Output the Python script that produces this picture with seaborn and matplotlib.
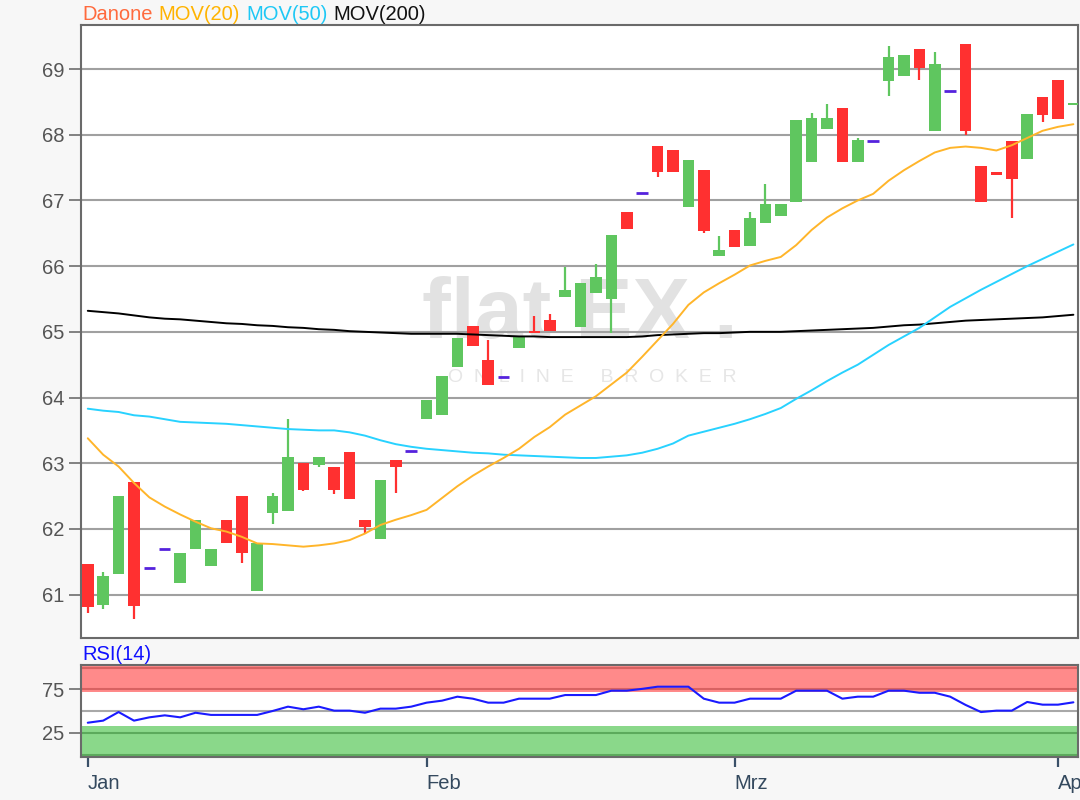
import matplotlib
matplotlib.use("Agg")
import matplotlib.pyplot as plt
import numpy as np
import pandas as pd
import seaborn as sns

# Danone daily OHLC, 2 Jan - 2 Apr
opens = [61.46, 60.84, 61.32, 62.71, 61.40, 61.70, 61.18, 61.69, 61.44, 62.14,
         62.50, 61.05, 62.24, 62.27, 63.00, 62.97, 62.95, 63.17, 62.14, 61.84,
         63.05, 63.19, 63.67, 63.73, 64.46, 65.09, 64.57, 64.32, 64.76, 65.00,
         65.18, 65.53, 65.08, 65.59, 65.50, 66.82, 67.12, 67.83, 67.76, 66.90,
         67.46, 66.16, 66.55, 66.31, 66.66, 66.77, 66.97, 67.59, 68.08, 68.40,
         67.59, 67.90, 68.82, 68.90, 69.31, 68.06, 68.67, 69.38, 67.52, 67.43,
         67.91, 67.63, 68.58, 68.83, 68.45]
highs = [61.46, 61.34, 62.50, 62.71, 61.40, 61.70, 61.64, 62.14, 61.70, 62.14,
         62.50, 61.78, 62.55, 63.68, 63.00, 63.10, 62.95, 63.17, 62.14, 62.74,
         63.05, 63.19, 63.96, 64.33, 64.90, 65.09, 64.88, 64.32, 64.93, 65.24,
         65.27, 65.99, 65.75, 66.03, 66.48, 66.82, 67.12, 67.83, 67.76, 67.61,
         67.46, 66.46, 66.55, 66.82, 67.25, 66.94, 68.22, 68.33, 68.46, 68.40,
         67.95, 67.90, 69.35, 69.22, 69.31, 69.26, 68.67, 69.38, 67.52, 67.43,
         67.91, 68.31, 68.58, 68.83, 68.49]
lows = [60.72, 60.78, 61.32, 60.63, 61.40, 61.70, 61.18, 61.69, 61.44, 61.78,
        61.48, 61.05, 62.07, 62.27, 62.57, 62.94, 62.53, 62.45, 61.92, 61.84,
        62.54, 63.19, 63.67, 63.73, 64.46, 64.79, 64.19, 64.32, 64.76, 64.98,
        65.01, 65.53, 65.08, 65.59, 64.98, 66.56, 67.12, 67.35, 67.44, 66.90,
        66.50, 66.16, 66.29, 66.31, 66.66, 66.77, 66.97, 67.59, 68.08, 67.59,
        67.59, 67.90, 68.59, 68.90, 68.84, 68.06, 68.67, 68.00, 66.97, 67.38,
        66.74, 67.63, 68.20, 68.24, 68.45]
closes = [60.81, 61.29, 62.50, 60.83, 61.40, 61.70, 61.64, 62.14, 61.70, 61.78,
          61.63, 61.78, 62.50, 63.10, 62.60, 63.10, 62.60, 62.45, 62.03, 62.74,
          62.94, 63.19, 63.96, 64.33, 64.90, 64.79, 64.19, 64.32, 64.93, 64.98,
          65.01, 65.64, 65.75, 65.84, 66.48, 66.56, 67.12, 67.44, 67.44, 67.61,
          66.53, 66.25, 66.29, 66.73, 66.94, 66.94, 68.22, 68.25, 68.25, 67.59,
          67.92, 67.90, 69.19, 69.22, 69.01, 69.07, 68.67, 68.06, 66.97, 67.38,
          67.32, 68.31, 68.30, 68.24, 68.49]

mov20 = [63.38, 63.13, 62.95, 62.70, 62.48, 62.34, 62.22, 62.11, 62.01, 61.96,
         61.88, 61.78, 61.77, 61.75, 61.73, 61.75, 61.78, 61.83, 61.93, 62.06,
         62.14, 62.21, 62.29, 62.47, 62.65, 62.81, 62.95, 63.08, 63.22, 63.40,
         63.55, 63.74, 63.88, 64.02, 64.20, 64.38, 64.62, 64.87, 65.12, 65.41,
         65.60, 65.74, 65.87, 66.01, 66.08, 66.14, 66.32, 66.55, 66.74, 66.88,
         67.00, 67.10, 67.30, 67.46, 67.60, 67.73, 67.80, 67.82, 67.80, 67.76,
         67.84, 67.95, 68.06, 68.12, 68.16]
mov50 = [63.83, 63.80, 63.78, 63.73, 63.71, 63.67, 63.63, 63.62, 63.61, 63.60,
         63.58, 63.56, 63.54, 63.52, 63.51, 63.50, 63.50, 63.47, 63.42, 63.35,
         63.29, 63.25, 63.22, 63.20, 63.18, 63.16, 63.15, 63.13, 63.12, 63.11,
         63.10, 63.09, 63.08, 63.08, 63.10, 63.12, 63.16, 63.22, 63.30, 63.42,
         63.48, 63.54, 63.60, 63.67, 63.75, 63.84, 63.98, 64.11, 64.25, 64.38,
         64.50, 64.65, 64.80, 64.93, 65.06, 65.22, 65.38, 65.51, 65.64, 65.76,
         65.88, 66.00, 66.11, 66.22, 66.33]
mov200 = [65.32, 65.30, 65.28, 65.25, 65.22, 65.20, 65.19, 65.17, 65.15, 65.13,
          65.12, 65.10, 65.09, 65.07, 65.06, 65.04, 65.03, 65.01, 65.00, 64.99,
          64.98, 64.97, 64.97, 64.97, 64.97, 64.96, 64.95, 64.94, 64.93, 64.93,
          64.92, 64.92, 64.92, 64.92, 64.92, 64.92, 64.93, 64.95, 64.96, 64.97,
          64.98, 64.98, 64.99, 65.00, 65.00, 65.00, 65.01, 65.02, 65.03, 65.04,
          65.05, 65.06, 65.08, 65.10, 65.11, 65.13, 65.15, 65.17, 65.18, 65.19,
          65.20, 65.21, 65.22, 65.24, 65.26]
rsi = [36.5, 38.9, 48.8, 38.9, 42.7, 45.0, 42.7, 48.0, 45.5, 45.5,
       45.5, 45.5, 50.0, 55.0, 52.0, 55.0, 50.4, 50.4, 48.0, 52.7,
       52.7, 55.0, 59.6, 61.9, 66.5, 64.2, 59.6, 59.6, 64.2, 64.2,
       64.2, 68.4, 68.4, 68.4, 73.4, 73.4, 75.5, 78.0, 78.0, 78.0,
       64.2, 59.6, 59.6, 64.2, 64.2, 64.2, 73.4, 73.4, 73.4, 64.2,
       66.5, 66.5, 73.4, 73.4, 71.0, 71.0, 66.5, 57.0, 48.8, 50.4,
       50.4, 60.4, 57.3, 57.3, 60.0]

month_labels = ["Jan", "Feb", "Mrz", "Apr"]
month_starts = [0, 22, 42, 63]

df = pd.DataFrame({"open": opens, "high": highs, "low": lows, "close": closes,
                   "mov20": mov20, "mov50": mov50, "mov200": mov200, "rsi": rsi})
df["day"] = np.arange(len(df))

sns.set_style("white")
plt.rcParams['font.family'] = ['Liberation Sans', 'DejaVu Sans']

W, H = 1080, 800
fig = plt.figure(figsize=(W / 100, H / 100), dpi=100, facecolor='#f7f7f7')


def box(l, t, r, b):
    return [l / W, 1 - b / H, (r - l) / W, (b - t) / H]


ax = fig.add_axes(box(81, 25, 1078, 638))
rx = fig.add_axes(box(81, 665, 1078, 757), sharex=ax)

GREEN, RED, DOJI = '#5fc65f', '#ff3030', '#5522dd'

# watermark
ax.text(580 / W, 1 - 316 / H, "flat EX .", transform=fig.transFigure, ha='center', va='center',
        fontsize=62, fontweight='bold', color='#e2e2e2', zorder=0.5)
ax.text(592 / W, 1 - 378 / H, "O  N  L  I  N  E     B  R  O  K  E  R", transform=fig.transFigure,
        ha='center', va='center', fontsize=14, color='#e6e6e6', zorder=0.5)

for y in range(61, 70):
    ax.axhline(y, color='#a0a0a0', lw=1.5, zorder=1)

for _, r in df.iterrows():
    x = r["day"]
    if r["open"] == r["close"] and r["high"] == r["low"]:
        ax.hlines(r["open"], x - 0.37, x + 0.37, color=DOJI, lw=2, zorder=4)
        continue
    col = GREEN if r["close"] >= r["open"] else RED
    ax.vlines(x, r["low"], r["high"], color=col, lw=1.6, zorder=3)
    lo, hi = min(r["open"], r["close"]), max(r["open"], r["close"])
    ax.bar(x, max(hi - lo, 0.04), bottom=lo, width=0.76, color=col, zorder=3, linewidth=0)

sns.lineplot(data=df, x="day", y="mov200", ax=ax, color='black', lw=1.4, zorder=5)
sns.lineplot(data=df, x="day", y="mov50", ax=ax, color='#28d2ff', lw=1.4, zorder=5)
sns.lineplot(data=df, x="day", y="mov20", ax=ax, color='#ffb52a', lw=1.4, zorder=5)

ax.set_xlim(-0.44, 64.3)
ax.set_ylim(60.34, 69.67)
ax.set_yticks(range(61, 70))
ax.set_xlabel("")
ax.set_ylabel("")
ax.tick_params(axis='y', length=9, width=1.3, color='#777777', labelsize=14.5,
               labelcolor='#555555', pad=3, left=True)
ax.tick_params(axis='x', bottom=False, labelbottom=False)

# RSI panel
rx.axhspan(72, 110, color='#ff8a8a', lw=0, zorder=0)
rx.axhspan(-10, 33, color='#8ad88a', lw=0, zorder=0)
rx.axhline(75, color='#d86262', lw=1.5, zorder=1)
rx.axhline(99.6, color='#d86262', lw=1.5, zorder=1)
rx.axhline(25, color='#5caa5c', lw=1.5, zorder=1)
rx.axhline(-0.6, color='#5caa5c', lw=1.5, zorder=1)
rx.axhline(50, color='#a8a8a8', lw=1.5, zorder=1)
sns.lineplot(data=df, x="day", y="rsi", ax=rx, color='#1a1aff', lw=1.5, zorder=5)
rx.set_ylim(-3, 103)
rx.set_yticks([25, 75])
rx.set_xlabel("")
rx.set_ylabel("")
rx.set_xticks(month_starts)
rx.set_xticklabels(month_labels, ha='left')
rx.tick_params(axis='y', length=9, width=1.3, color='#777777', labelsize=14.5,
               labelcolor='#555555', pad=3, left=True)
rx.tick_params(axis='x', length=7, width=1.6, color='#3a5068', labelsize=14.5,
               labelcolor='#34495e', pad=5, bottom=True, direction='out')

for a in (ax, rx):
    a.set_facecolor('white')
    for s in a.spines.values():
        s.set_color('#6a6a6a')
        s.set_linewidth(1.5)

# coloured headers
renderer = fig.canvas.get_renderer()
xpos = 82
for label, col in [("Danone", '#ff6a3d'), ("MOV(20)", '#ffb300'),
                   ("MOV(50)", '#1ec8f5'), ("MOV(200)", '#111111')]:
    t = fig.text(xpos / W, 1 - 14 / H, label, color=col, fontsize=14.5, va='center', ha='left')
    bb = t.get_window_extent(renderer)
    xpos += bb.width + 6
fig.text(82 / W, 1 - 654 / H, "RSI(14)", color='#1010ff', fontsize=14.5, va='center', ha='left')

fig.savefig("out.png", dpi=100, facecolor=fig.get_facecolor())
